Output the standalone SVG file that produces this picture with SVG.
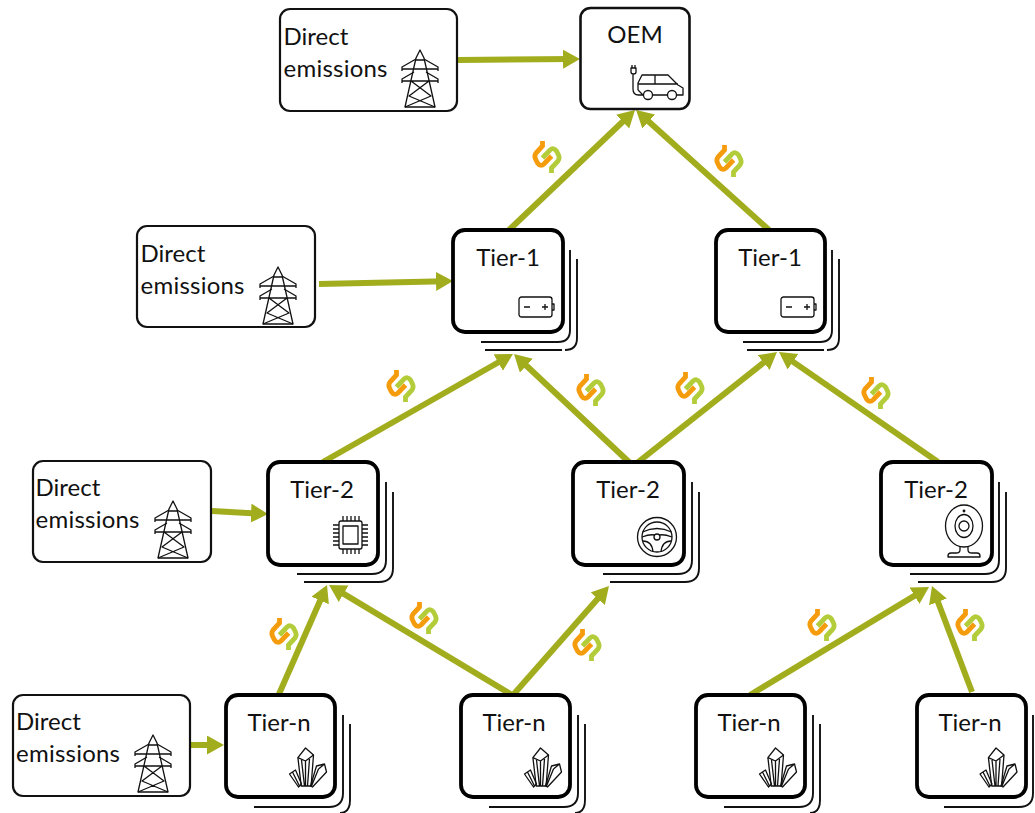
<svg xmlns="http://www.w3.org/2000/svg" width="1035" height="813" viewBox="0 0 1035 813">
<style>
text{font-family:Lato,"Open Sans",sans-serif;font-size:24px;fill:#111}
.d{fill:#fff;stroke:#111;stroke-width:2.2}
.t{fill:#fff;stroke:#000;stroke-width:3.8}
.o{fill:#fff;stroke:#111;stroke-width:2.6}
.s{fill:none;stroke:#111;stroke-width:1.9}
.i{fill:none;stroke:#111;stroke-width:1.3;stroke-linejoin:round}
.c{fill:none;stroke:#a2ad1e;stroke-width:6}
.c line{marker-end:url(#a)}
</style>
<defs>
<marker id="a" markerUnits="userSpaceOnUse" markerWidth="18" markerHeight="20" refX="9" refY="9.500" orient="auto"><path d="M0,0 17,9.500 0,19z" fill="#a2ad1e"/></marker>
<symbol id="link" overflow="visible"><path d="M-4.500,-16V-11L-11,-4Q-13,-1 -11.500,2L-9.500,6Q-6.500,10 -3,7L4.500,-1" fill="none" stroke="#f59c0d" stroke-width="4.800"/><path d="M4.500,16V11L11,4Q13,1 11.500,-2L9.500,-6Q6.500,-10 3,-7L-4.500,1" fill="none" stroke="#b3cc3a" stroke-width="4.800"/></symbol>
<symbol id="pylon" overflow="visible"><g class="i"><path d="M0,0-4,8-15,57H15L4,8Z"/><path d="M-4,9-18,17V21M4,9 18,17V21M-18,19H18M-6,22-18,29V33M6,22 18,29V33M-18,31H18M-9,31 11,46-15,57M9,31-11,46 15,57M-4,10H4"/></g></symbol>
<symbol id="crystal" overflow="visible"><g class="i"><path d="M0,0 8,7 5.600,38H-4.300L-7.600,9.600Z"/><path d="M-7.600,9.600 0,13 8,7M0,13V38M-4,12-1,38M4,11 2,38"/><path d="M-16,26-10,22-4,36-7,39ZM-13,24-6,38"/><path d="M11,18 19,16 21,24 7,39 5,38ZM13,21 19,16M13,21 6,38"/></g></symbol>
<symbol id="bat" overflow="visible"><g class="i" stroke-width="1"><rect x="0" y="0" width="33" height="20" rx="2.500"/><path d="M33,7H35V13H33M5,10H11M23,10H29M26,7V13"/></g></symbol>
</defs>

<g id="connectors" class="c">
<line x1="458" y1="60" x2="572" y2="59.100"/>
<line x1="509" y1="230" x2="629.200" y2="115.500"/>
<line x1="769" y1="230" x2="642" y2="115.400"/>
<line x1="319" y1="284" x2="445" y2="281.200"/>
<line x1="323" y1="462" x2="506" y2="358"/>
<line x1="630" y1="463" x2="519.800" y2="359.500"/>
<line x1="637" y1="463" x2="770.700" y2="357"/>
<line x1="938" y1="462" x2="785.600" y2="356.600"/>
<line x1="212" y1="511" x2="260" y2="513.600"/>
<line x1="279" y1="694" x2="323.800" y2="592.300"/>
<line x1="512" y1="695" x2="335.900" y2="589.100"/>
<line x1="513" y1="695" x2="603.700" y2="592"/>
<line x1="750" y1="695" x2="922.200" y2="591.100"/>
<line x1="972" y1="692" x2="934.800" y2="593.500"/>
<line x1="190" y1="745" x2="216" y2="745"/>
</g>

<g id="links">
<use href="#link" x="547" y="157"/><use href="#link" x="729" y="161"/>
<use href="#link" x="401" y="386"/><use href="#link" x="591" y="390"/>
<use href="#link" x="690" y="388"/><use href="#link" x="876" y="393"/>
<use href="#link" x="284" y="634"/><use href="#link" x="424" y="618"/>
<use href="#link" x="587" y="645"/><use href="#link" x="822" y="625"/>
<use href="#link" x="970" y="625"/>
</g>

<g id="direct-1"><rect class="d" x="280" y="9" width="177" height="102" rx="10"/><text x="283.500" y="45">Direct</text><text x="283.500" y="77" textLength="104">emissions</text><use href="#pylon" x="420" y="50"/></g>
<g id="direct-2"><rect class="d" x="137" y="226" width="178" height="101" rx="10"/><text x="140.500" y="262">Direct</text><text x="140.500" y="294" textLength="104">emissions</text><use href="#pylon" x="278" y="267"/></g>
<g id="direct-3"><rect class="d" x="33" y="461" width="178" height="101" rx="10"/><text x="35.500" y="496">Direct</text><text x="35.500" y="528" textLength="104">emissions</text><use href="#pylon" x="173" y="501"/></g>
<g id="direct-4"><rect class="d" x="13" y="695" width="177" height="101" rx="10"/><text x="16" y="730">Direct</text><text x="16" y="762" textLength="104">emissions</text><use href="#pylon" x="153" y="735"/></g>

<g id="oem"><rect class="o" x="580.500" y="8" width="109" height="101" rx="10"/><text x="635" y="43" text-anchor="middle">OEM</text>
<g class="i"><path d="M643,95H638.500Q633,95 633,89V74M631,68H636V72Q636,74 633.500,74 631,74 631,72ZM632,68V65M635,68V65M638,90V83L642,75H668L678,85 683,88V95H677M638,84H678M655,75V84M653,95H667M638,90 643,95"/><circle cx="648" cy="95" r="4.500"/><circle cx="672" cy="95" r="4.500"/></g></g>

<g id="tier1-a"><path class="s" d="M570,250V330Q570,342 558,342H481M577,259V338Q577,350 565,350M562,350H485"/><rect class="t" x="453" y="230" width="110" height="102" rx="12"/><text x="508" y="266" text-anchor="middle">Tier-1</text><use href="#bat" x="519" y="297"/></g>
<g id="tier1-b"><path class="s" d="M832,250V330Q832,342 820,342H743M839,259V338Q839,350 827,350M824,350H747"/><rect class="t" x="716" y="230" width="109" height="102" rx="12"/><text x="770" y="266" text-anchor="middle">Tier-1</text><use href="#bat" x="781" y="297"/></g>

<g id="tier2-a"><path class="s" d="M386,482V560Q386,574 372,574H297M393,492V568Q393,582 379,582H304"/><rect class="t" x="268" y="462" width="110" height="103" rx="12"/><text x="322" y="498" text-anchor="middle">Tier-2</text>
<g class="i"><rect x="339" y="521" width="23" height="28" rx="2"/><rect x="343" y="526" width="15" height="18"/><path d="M343,516V521M347,516V521M351,516V521M355,516V521M359,516V521M343,549V554M347,549V554M351,549V554M355,549V554M359,549V554M333,525H339M333,529H339M333,533H339M333,537H339M333,541H339M333,545H339M362,525H368M362,529H368M362,533H368M362,537H368M362,541H368M362,545H368"/></g></g>

<g id="tier2-b"><path class="s" d="M692,482V560Q692,574 678,574H603M699,492V568Q699,582 685,582H610"/><rect class="t" x="573" y="462" width="111" height="103" rx="12"/><text x="628" y="498" text-anchor="middle">Tier-2</text>
<g class="i"><circle cx="657" cy="537" r="19.500"/><circle cx="657" cy="537" r="15"/><circle cx="657" cy="537" r="3"/><path d="M642.500,532Q657,525 671.500,532M642,537Q650,534 654.500,535M672,537Q664,534 659.500,535M643,541Q652,541 653,552M671,541Q662,541 661,552"/></g></g>

<g id="tier2-c"><path class="s" d="M999,482V560Q999,574 985,574H910M1006,492V568Q1006,582 992,582H918"/><rect class="t" x="881" y="462" width="111" height="103" rx="12"/><text x="936" y="498" text-anchor="middle">Tier-2</text>
<g class="i"><ellipse cx="964" cy="526" rx="18.500" ry="21"/><ellipse cx="964" cy="526" rx="9" ry="11.500"/><circle cx="964" cy="526" r="5"/><circle cx="964" cy="511" r=".8"/><path d="M960,546V550Q960,553 956,553H951Q948,553 948,556V557H980V556Q980,553 977,553H972Q968,553 968,550V546"/></g></g>

<g id="tiern-a"><path class="s" d="M343,715V793Q343,807 329,807H254M350,724V800Q350,813 340,813"/><rect class="t" x="226" y="695" width="109" height="102" rx="12"/><text x="279" y="731" text-anchor="middle">Tier-n</text><use href="#crystal" x="305.500" y="748"/></g>
<g id="tiern-b"><path class="s" d="M578,715V793Q578,807 564,807H489M585,724V800Q585,813 575,813"/><rect class="t" x="461" y="695" width="109" height="102" rx="12"/><text x="514" y="731" text-anchor="middle">Tier-n</text><use href="#crystal" x="540.500" y="748"/></g>
<g id="tiern-c"><path class="s" d="M813,715V793Q813,807 799,807H724M820,724V800Q820,813 810,813"/><rect class="t" x="696" y="695" width="109" height="102" rx="12"/><text x="749" y="731" text-anchor="middle">Tier-n</text><use href="#crystal" x="775.500" y="748"/></g>
<g id="tiern-d"><path class="s" d="M1033,715V793Q1033,807 1019,807H944"/><rect class="t" x="917" y="695" width="109" height="102" rx="12"/><text x="970" y="731" text-anchor="middle">Tier-n</text><use href="#crystal" x="996" y="748"/></g>
</svg>
